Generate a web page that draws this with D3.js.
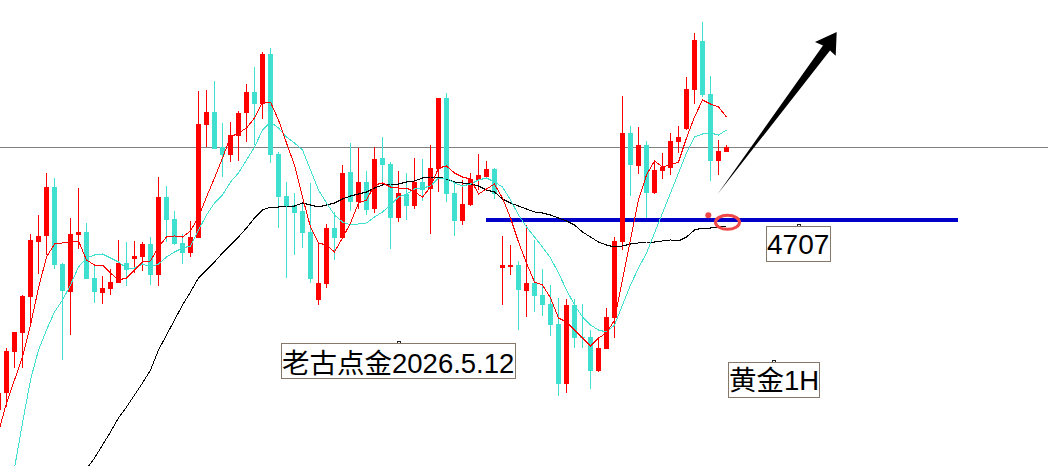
<!DOCTYPE html>
<html>
<head>
<meta charset="utf-8">
<script src="https://cdn.jsdelivr.net/npm/d3@7"></script>
<style>
html,body{margin:0;padding:0;background:#fff;overflow:hidden}
svg{display:block}
text{font-family:"Liberation Sans","Noto Sans CJK SC",sans-serif;fill:#000}
</style>
</head>
<body>
<div id="chart"></div>
<script>
const firstBar = -1;
const open = [4517,4534,4575,4594,4630,4685,4691,4740,4663,4635,4692,4695,4649,4634,4638,4644,4664,4668,4670,4683,4652,4730,4708,4684,4674,4689,4802,4815,4780,4772,4791,4814,4835,4823,4873,4773,4731,4722,4716,4695,4627,4643,4699,4689,4755,4725,4745,4718,4769,4763,4709,4733,4721,4745,4738,4758,4829,4734,4706,4722,4747,4750,4758,4659,4660,4662,4636,4644,4632,4623,4603,4543,4622,4590,4590,4556,4578,4609,4685,4794,4761,4782,4734,4756,4759,4785,4798,4837,4886,4833,4766,4775];
const high = [4534,4579,4595,4632,4693,4712,4754,4749,4664,4709,4739,4704,4662,4651,4658,4687,4685,4686,4685,4690,4750,4741,4716,4693,4706,4836,4837,4846,4804,4805,4816,4843,4860,4875,4879,4775,4745,4734,4723,4744,4685,4703,4715,4762,4784,4779,4756,4780,4790,4765,4756,4754,4769,4768,4782,4829,4834,4743,4747,4754,4773,4766,4759,4691,4682,4666,4702,4687,4658,4642,4629,4628,4628,4623,4597,4590,4619,4690,4831,4801,4800,4786,4766,4774,4794,4801,4850,4894,4905,4851,4787,4782];
const low = [4512,4520,4559,4559,4602,4653,4672,4658,4567,4592,4678,4648,4624,4623,4632,4644,4641,4654,4656,4642,4641,4685,4682,4663,4670,4689,4780,4778,4750,4765,4766,4785,4782,4808,4764,4699,4649,4672,4679,4644,4622,4639,4667,4689,4716,4718,4712,4714,4742,4678,4705,4707,4718,4726,4693,4735,4725,4691,4702,4721,4737,4749,4728,4622,4652,4597,4610,4615,4611,4591,4531,4534,4579,4579,4538,4555,4578,4589,4677,4731,4753,4709,4733,4748,4752,4774,4797,4823,4830,4746,4752,4775];
const close = [4534,4576,4595,4631,4687,4691,4740,4662,4636,4693,4695,4648,4635,4639,4645,4664,4657,4671,4683,4652,4730,4707,4683,4674,4690,4803,4815,4778,4772,4792,4814,4835,4823,4873,4772,4730,4720,4714,4694,4648,4644,4699,4689,4754,4725,4745,4717,4768,4762,4709,4734,4721,4745,4737,4759,4829,4733,4706,4723,4748,4752,4758,4733,4662,4662,4637,4644,4631,4622,4602,4543,4622,4589,4589,4556,4579,4610,4686,4794,4762,4782,4734,4757,4760,4786,4790,4838,4887,4832,4766,4776,4780];

const fastStart = -1;
const fastMA = [4495,4524,4547,4570,4602,4639,4670,4683,4684,4685,4686,4667,4662,4662,4654,4647,4649,4657,4665,4666,4680,4690,4691,4690,4696,4710,4730,4749,4769,4790,4794,4799,4809,4825,4825,4807,4784,4762,4730,4700,4684,4682,4675,4689,4704,4724,4727,4742,4744,4740,4739,4739,4735,4730,4740,4759,4761,4754,4750,4748,4733,4738,4743,4729,4709,4685,4664,4645,4642,4629,4609,4605,4597,4589,4581,4589,4594,4607,4647,4687,4727,4752,4766,4760,4762,4765,4789,4810,4827,4823,4820,4810];
const midStart = 1;
const midMA = [4459,4504,4547,4577,4597,4615,4627,4642,4660,4669,4672,4673,4669,4665,4659,4659,4663,4660,4663,4670,4675,4679,4681,4697,4712,4724,4732,4745,4754,4767,4780,4797,4805,4799,4790,4784,4777,4757,4737,4724,4712,4705,4702,4703,4704,4710,4715,4722,4730,4733,4738,4739,4741,4749,4749,4744,4741,4743,4747,4749,4745,4740,4727,4712,4700,4690,4680,4669,4654,4637,4622,4610,4602,4597,4595,4602,4622,4642,4659,4674,4694,4714,4734,4754,4774,4790,4793,4794,4792,4797];
const slowStart = 10;
const slowMA = [4458,4469,4482,4495,4509,4520,4532,4544,4557,4577,4592,4607,4622,4635,4649,4657,4665,4674,4682,4690,4699,4709,4717,4720,4720,4721,4721,4724,4722,4720,4722,4724,4728,4731,4733,4735,4739,4742,4743,4743,4745,4746,4749,4750,4750,4748,4745,4744,4743,4741,4737,4735,4728,4724,4721,4718,4715,4714,4712,4709,4706,4702,4695,4690,4685,4682,4680,4681,4683,4684,4685,4685,4686,4687,4686,4690,4697,4699,4699,4700,4701];

const supportPrice = 4707;
const referencePrice = 4780;
const labelTexts = ["老古点金2026.5.12", "4707", "黄金1H"];

const W = 1048, H = 466;
const x = d3.scaleLinear().domain([-1, 90]).range([-1.5, 726.5]);
const y = d3.scaleLinear().domain([4927, 4461]).range([0, 466]);

const svg = d3.select("#chart").append("svg").attr("width", W).attr("height", H).attr("viewBox", `0 0 ${W} ${H}`);

// reference line
svg.append("rect").attr("x", 0).attr("width", W).attr("y", y(referencePrice)).attr("height", 1).attr("fill", "#808080");
// support line
svg.append("rect").attr("x", 486).attr("width", 472).attr("y", y(supportPrice) - 2).attr("height", 4).attr("fill", "#0000c8");

const RED = "#ff0000", TEAL = "#40e0d0";
const bars = open.map((o, i) => ({i: firstBar + i, o, h: high[i], l: low[i], c: close[i], up: close[i] >= o}));
const g = svg.append("g").attr("shape-rendering", "crispEdges");
g.selectAll(".wick").data(bars).join("rect").attr("class", "wick")
  .attr("x", d => x(d.i) - 0.5).attr("width", 1)
  .attr("y", d => y(d.h)).attr("height", d => y(d.l) - y(d.h))
  .attr("fill", d => d.up ? RED : TEAL);
g.selectAll(".body").data(bars).join("rect").attr("class", "body")
  .attr("x", d => x(d.i) - 2.5).attr("width", 5)
  .attr("y", d => y(Math.max(d.o, d.c))).attr("height", d => Math.max(1, Math.abs(y(d.o) - y(d.c))))
  .attr("fill", d => d.up ? RED : TEAL);

// moving averages
const line = d3.line().x(d => x(d[0])).y(d => y(d[1]));
[[slowMA, slowStart, "#000000"], [midMA, midStart, TEAL], [fastMA, fastStart, RED]].forEach(([vals, start, color]) => {
  svg.append("path").datum(vals.map((v, i) => [start + i, v])).attr("d", line)
    .attr("fill", "none").attr("stroke", color).attr("stroke-width", 1).attr("shape-rendering", "crispEdges");
});

// arrow
svg.append("path")
  .attr("d", "M717.7 194 L823 45.5 L815 42 L836.7 32 L835.7 55.7 L830 50.5 Z")
  .attr("fill", "#000");

// red marker
svg.append("ellipse").attr("cx", 727.5).attr("cy", 222.3).attr("rx", 12).attr("ry", 7)
  .attr("fill", "none").attr("stroke", "#f04848").attr("stroke-width", 3);
svg.append("circle").attr("cx", 708.3).attr("cy", 215.3).attr("r", 3).attr("fill", "#f04848");

// labels
const boxes = [
  {x: 281.5, y: 343.5, w: 234, h: 35, tx: 282, ty: 373, fs: 27.5},
  {x: 766.5, y: 226.5, w: 64, h: 35, tx: 767, ty: 254, fs: 28},
  {x: 728.5, y: 362.5, w: 91, h: 35, tx: 729, ty: 390, fs: 27.5}
];
boxes.forEach((b, i) => {
  svg.append("rect").attr("x", b.x).attr("y", b.y).attr("width", b.w).attr("height", b.h)
    .attr("fill", "#fff").attr("stroke", "#857868").attr("stroke-width", 1);
  svg.append("path").attr("d", `M${b.x + b.w/2 - 1.5} ${b.y - 0.5} v-1.5 h3 v1.5`)
    .attr("fill", "none").attr("stroke", "#222").attr("stroke-width", 1).attr("shape-rendering", "crispEdges");
  svg.append("text").attr("x", b.tx).attr("y", b.ty).attr("font-size", b.fs).text(labelTexts[i]);
});
</script>
</body>
</html>
